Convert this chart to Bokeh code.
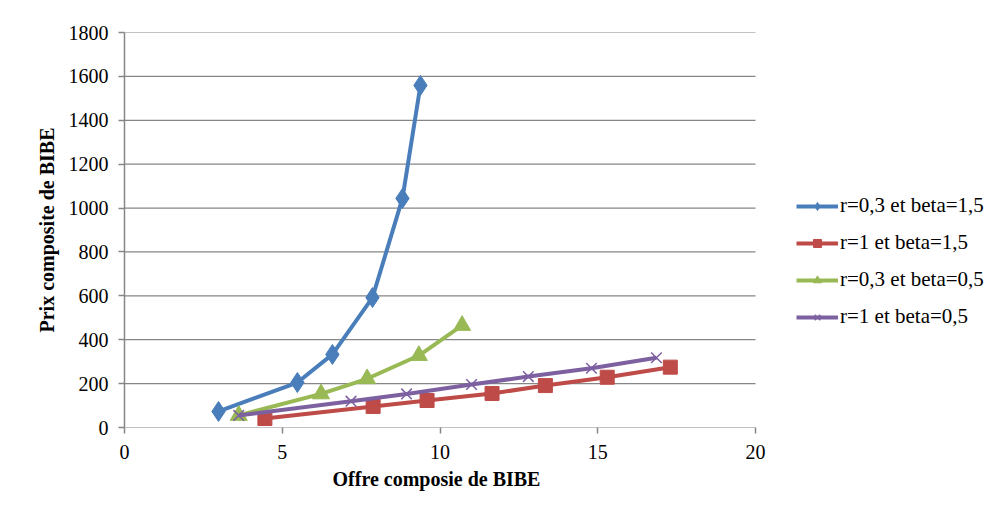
from bokeh.plotting import figure
from bokeh.models import Range1d, Legend, LegendItem, FixedTicker, Title
from bokeh.embed import file_html
from bokeh.resources import INLINE

# Data
blue_x = [2.98, 5.48, 6.59, 7.86, 8.81, 9.38]
blue_y = [73, 205, 333, 592, 1044, 1559]
red_x = [4.45, 7.88, 9.59, 11.65, 13.34, 15.3, 17.3]
red_y = [41, 96, 123, 155, 191, 229, 275]
green_x = [3.62, 6.23, 7.69, 9.33, 10.70]
green_y = [55, 153, 222, 328, 465]
purple_x = [3.62, 7.18, 8.94, 11.0, 12.8, 14.8, 16.86]
purple_y = [55, 120, 153, 196, 232, 270, 318]

labels = ["r=0,3 et beta=1,5", "r=1 et beta=1,5", "r=0,3 et beta=0,5", "r=1 et beta=0,5"]
x_ticks = [0, 5, 10, 15, 20]
y_ticks = [0, 200, 400, 600, 800, 1000, 1200, 1400, 1600, 1800]

BOLD_FONT = "Liberation Serif"
REG_FONT = "Tinos, 'Nimbus Roman', 'Nimbus Roman No9 L', 'DejaVu Serif'"
GRAY = "#868686"

# frame spans to the right edge so the legend is not clipped;
# scale chosen so that x=20 lands where the reference axis ends
FRAME_W = 986 - 124
AXIS_W = 631
x_max = x_ticks[-1] * FRAME_W / AXIS_W

p = figure(width=986, height=508, output_backend="svg", toolbar_location=None,
           x_range=Range1d(0, x_max), y_range=Range1d(0, 1800),
           min_border_left=124, min_border_top=32, min_border_right=0, min_border_bottom=81)
p.outline_line_color = None
p.xgrid.grid_line_color = None
p.ygrid.grid_line_color = None

# horizontal gridlines limited to the axis extent (also forms the x axis line)
p.segment(x0=[x_ticks[0]] * len(y_ticks), x1=[x_ticks[-1]] * len(y_ticks),
          y0=y_ticks, y1=y_ticks, line_color=GRAY, line_width=1.2)

for ax in (p.xaxis[0], p.yaxis[0]):
    ax.axis_line_color = GRAY
    ax.axis_line_width = 1.5
    ax.major_tick_line_color = GRAY
    ax.major_tick_line_width = 1.5
    ax.major_tick_out = 6
    ax.major_tick_in = 0
    ax.minor_tick_line_color = None
    ax.major_label_text_font = REG_FONT
    ax.major_label_text_font_size = "20px"
    ax.major_label_text_color = "black"
    ax.axis_label_text_font = BOLD_FONT
    ax.axis_label_text_font_size = "20px"
    ax.axis_label_text_font_style = "bold"
    ax.axis_label_text_color = "black"

p.xaxis[0].axis_line_color = None
p.xaxis[0].ticker = FixedTicker(ticks=x_ticks)
p.yaxis[0].ticker = FixedTicker(ticks=y_ticks)
p.yaxis[0].axis_label = "Prix composite de BIBE"
p.xaxis[0].major_label_standoff = 11
p.yaxis[0].major_label_standoff = 10
p.yaxis[0].axis_label_standoff = 8

xtitle = Title(text="Offre composie de BIBE", align="left", offset=208,
               text_font=BOLD_FONT, text_font_size="20px", text_font_style="bold",
               text_color="black", standoff=9)
p.add_layout(xtitle, "below")

colors = ["#4a7ebb", "#be4b48", "#98b954", "#7d60a0"]
LW = 4
items = []

l1 = p.line(blue_x, blue_y, line_color=colors[0], line_width=LW)
m1 = p.scatter(blue_x, blue_y, marker="diamond", size=20, fill_color=colors[0], line_color=colors[0])
items.append(LegendItem(label=labels[0], renderers=[l1, m1]))

l2 = p.line(red_x, red_y, line_color=colors[1], line_width=LW)
m2 = p.scatter(red_x, red_y, marker="square", size=14, fill_color=colors[1], line_color=colors[1])
items.append(LegendItem(label=labels[1], renderers=[l2, m2]))

l3 = p.line(green_x, green_y, line_color=colors[2], line_width=LW)
m3 = p.scatter(green_x, green_y, marker="triangle", size=17, fill_color=colors[2], line_color=colors[2])
items.append(LegendItem(label=labels[2], renderers=[l3, m3]))

l4 = p.line(purple_x, purple_y, line_color=colors[3], line_width=LW)
m4 = p.scatter(purple_x, purple_y, marker="x", size=15, line_color=colors[3], line_width=1.5)
items.append(LegendItem(label=labels[3], renderers=[l4, m4]))

legend = Legend(items=items, location=(672, 98), border_line_color=None,
                background_fill_alpha=0, label_text_font=REG_FONT, label_text_font_size="21px",
                label_text_color="black", glyph_width=42, glyph_height=20,
                label_standoff=2, spacing=12, padding=0, margin=0)
p.add_layout(legend, "center")

open("out.html", "w").write(file_html(p, INLINE))
